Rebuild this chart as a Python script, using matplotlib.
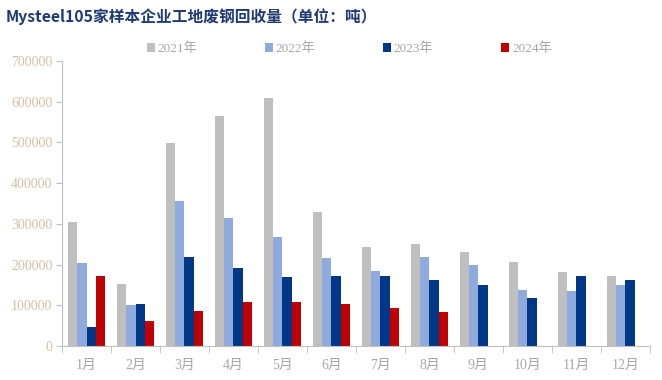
import numpy as np
import matplotlib.pyplot as plt

months = ['1月', '2月', '3月', '4月', '5月', '6月', '7月', '8月', '9月', '10月', '11月', '12月']
y2021 = [304000, 152000, 498000, 564000, 608000, 328000, 243000, 250000, 231000, 206000, 182000, 172000]
y2022 = [203000, 100000, 355000, 314000, 267000, 215000, 184000, 219000, 199000, 138000, 135000, 150000]
y2023 = [47000, 103000, 219000, 192000, 169000, 172000, 172000, 162000, 150000, 118000, 172000, 162000]
y2024 = [172000, 61000, 86000, 108000, 108000, 103000, 93000, 84000]
series = ['2021年', '2022年', '2023年', '2024年']
colors = ['#BFBFBF', '#8FAADC', '#003887', '#C00000']

fam = ['Liberation Serif', 'Noto Sans CJK SC']

fig = plt.figure(figsize=(6.62, 3.8), dpi=100)
ax = fig.add_axes([0.0937, 0.0895, 0.888, 0.75])

x = np.arange(len(months))
w = 0.19
for i, (vals, lab, c) in enumerate(zip([y2021, y2022, y2023, y2024], series, colors)):
    xs = x[:len(vals)] + (i - 1.5) * w
    ax.bar(xs, vals, w, color=c, label=lab, zorder=2)

ax.set_xlim(-0.5, 11.5)
ax.set_ylim(0, 700000)
ax.set_yticks(range(0, 700001, 100000))
ax.set_yticklabels([str(v) for v in range(0, 700001, 100000)],
                   family=fam, fontsize=10, color='#D5BFA5')
ax.set_xticks(x)
ax.set_xticklabels(months, family=fam, fontsize=10, color='#A6A6A6')
ax.set_xticks(np.arange(-0.5, 12, 1), minor=True)
ax.tick_params(axis='x', which='major', length=0, pad=9)
ax.tick_params(axis='x', which='minor', length=5, color='#BFBFBF', direction='out')
ax.tick_params(axis='y', length=4, color='#BFBFBF', pad=3)

for s in ['top', 'right']:
    ax.spines[s].set_visible(False)
ax.spines['left'].set_color('#BFBFBF')
ax.spines['bottom'].set_color('#BFBFBF')

leg = ax.legend(loc='lower left', bbox_to_anchor=(0.135, 1.002), ncol=4, frameon=False,
                handlelength=0.6, handleheight=0.6, handletextpad=0.2,
                columnspacing=5.15, borderaxespad=0.0,
                prop={'family': fam, 'size': 9.5})
for t in leg.get_texts():
    t.set_color('#A6A6A6')

fig.text(0.008, 0.957, 'Mysteel105家样本企业工地废钢回收量（单位：吨）',
         family=['Noto Sans CJK SC'], fontweight='bold', fontsize=11.3,
         color='#1F3A73', va='center', ha='left')

fig.savefig('out.png', dpi=100)
